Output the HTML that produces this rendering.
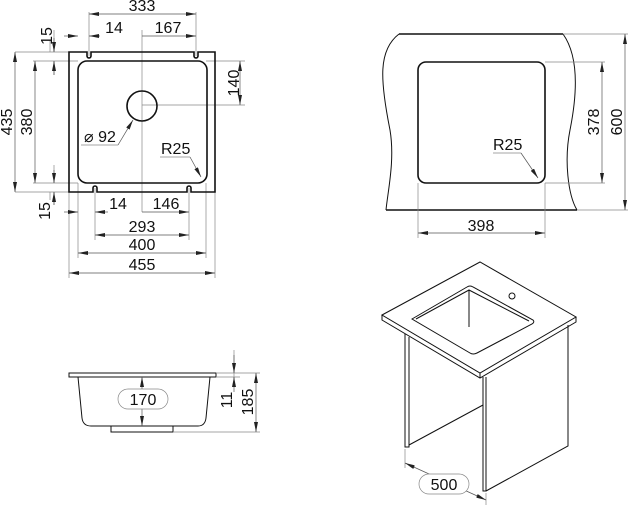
<!DOCTYPE html>
<html><head><meta charset="utf-8"><style>
html,body{margin:0;padding:0;background:#fff;width:628px;height:510px;overflow:hidden}
svg{display:block}
text{font-family:"Liberation Sans",sans-serif;font-size:16px;fill:#111}
.t{stroke:#888;stroke-width:0.7;fill:none}
.d{stroke:#555;stroke-width:0.7;fill:none;marker-start:url(#a);marker-end:url(#a)}
.k{stroke:#111;stroke-width:1.6;fill:none}
.k1{stroke:#111;stroke-width:1;fill:none}
</style></head><body>
<svg width="628" height="510" viewBox="0 0 628 510" xmlns="http://www.w3.org/2000/svg">
<defs>
<marker id="a" viewBox="0 0 10 4" refX="10" refY="2" markerWidth="10" markerHeight="4" orient="auto-start-reverse" markerUnits="userSpaceOnUse"><path d="M0,0 L10,2 L0,4 z" fill="#222"/></marker>
</defs>

<g>
<path class="t" d="M89,12V56 M196,12V56 M142,30V212 M142,105H245 M206,61H245 M15,52H69 M33,61H78 M33,183H78 M15,192H69 M78,183V258 M206,183V258 M95,188V240 M189,188V240 M69,192V278 M215,192V278 M50,52V40 M50,192V200"/>
<path class="k" d="M69,52H87 V56 A2,2 0 0 0 91,56 V52 H194 V56 A2,2 0 0 0 198,56 V52 H215 V192 H191 V188 A2,2 0 0 0 187,188 V192 H97 V188 A2,2 0 0 0 93,188 V192 H69 Z"/>
<rect class="k" x="78" y="61" width="129" height="122" rx="9"/>
<circle class="k" cx="142" cy="106" r="15"/>
<line class="d" x1="89" y1="14" x2="196" y2="14"/>
<text x="142" y="11" text-anchor="middle">333</text>
<line class="d" x1="64" y1="36" x2="78" y2="36" style="marker-start:none"/>
<line class="d" x1="100" y1="36" x2="89" y2="36" style="marker-start:none"/>
<text x="114" y="33" text-anchor="middle">14</text>
<line class="d" x1="142" y1="36" x2="196" y2="36" style="marker-start:none"/>
<text x="168" y="33" text-anchor="middle">167</text>
<path class="t" d="M54,30V52 M54,61V75"/>
<line class="d" x1="54" y1="38" x2="54" y2="52" style="marker-start:none"/>
<line class="d" x1="54" y1="75" x2="54" y2="61" style="marker-start:none"/>
<text transform="translate(52,36) rotate(-90)" text-anchor="middle">15</text>
<line class="d" x1="15" y1="52" x2="15" y2="192"/>
<text transform="translate(12,122) rotate(-90)" text-anchor="middle">435</text>
<line class="d" x1="35" y1="61" x2="35" y2="183"/>
<text transform="translate(32,122) rotate(-90)" text-anchor="middle">380</text>
<line class="d" x1="240" y1="61" x2="240" y2="105"/>
<text transform="translate(239,83) rotate(-90)" text-anchor="middle">140</text>
<path class="t" d="M81,145H118"/>
<line class="d" x1="118" y1="145" x2="133" y2="120" style="marker-start:none"/>
<text x="84" y="142">⌀ 92</text>
<path class="t" d="M160,157H190"/>
<line class="d" x1="190" y1="157" x2="201" y2="177" style="marker-start:none"/>
<text x="161" y="154">R25</text>
<path class="t" d="M54,165V183 M54,192V205"/>
<line class="d" x1="54" y1="170" x2="54" y2="183" style="marker-start:none"/>
<line class="d" x1="54" y1="205" x2="54" y2="192" style="marker-start:none"/>
<text transform="translate(50,211) rotate(-90)" text-anchor="middle">15</text>
<line class="d" x1="64" y1="212" x2="78" y2="212" style="marker-start:none"/>
<line class="d" x1="108" y1="212" x2="95" y2="212" style="marker-start:none"/>
<text x="118" y="209" text-anchor="middle">14</text>
<line class="d" x1="142" y1="212" x2="189" y2="212" style="marker-start:none"/>
<text x="166" y="209" text-anchor="middle">146</text>
<line class="d" x1="95" y1="235" x2="189" y2="235"/>
<text x="142" y="232" text-anchor="middle">293</text>
<line class="d" x1="78" y1="253" x2="206" y2="253"/>
<text x="142" y="250" text-anchor="middle">400</text>
<line class="d" x1="69" y1="273" x2="215" y2="273"/>
<text x="142" y="270" text-anchor="middle">455</text>
</g>

<g>
<path class="k1" d="M399,34 C378,50 380,80 390,130 C395,160 388,190 386,210"/>
<path class="k1" d="M563,34 C578,55 578,90 570,130 C564,160 568,195 577,210"/>
<path class="k" d="M399,34H563 M386,210H577"/>
<rect class="k" x="418" y="62" width="127" height="121" rx="8"/>
<path class="t" d="M545,62H605 M545,183H605 M563,34H628 M577,210H628 M418,183V238 M545,183V238"/>
<line class="d" x1="602" y1="62" x2="602" y2="183"/>
<text transform="translate(599,122) rotate(-90)" text-anchor="middle">378</text>
<line class="d" x1="625" y1="34" x2="625" y2="210"/>
<text transform="translate(622,122) rotate(-90)" text-anchor="middle">600</text>
<line class="d" x1="418" y1="233" x2="545" y2="233"/>
<text x="481" y="231" text-anchor="middle">398</text>
<path class="t" d="M493,153H521"/>
<line class="d" x1="521" y1="153" x2="538" y2="178" style="marker-start:none"/>
<text x="493" y="150">R25</text>
</g>

<g>
<rect class="k1" x="69" y="373" width="147" height="4"/>
<path class="k1" d="M78,377 L82,418 Q83,426 91,426 H198 Q205,426 206,418 L210,377"/>
<rect class="k1" x="111" y="426" width="62" height="6"/>
<path class="t" d="M216,373H260 M216,377H240 M173,432H260"/>
<line class="d" x1="142" y1="377" x2="142" y2="426"/>
<rect x="118" y="389" width="50" height="20" rx="10" fill="#fff" stroke="#888" stroke-width="0.7"/>
<text x="143" y="405" text-anchor="middle">170</text>
<path class="t" d="M234,350V387"/>
<line class="d" x1="234" y1="355" x2="234" y2="373" style="marker-start:none"/>
<line class="d" x1="234" y1="392" x2="234" y2="377" style="marker-start:none"/>
<text transform="translate(232,400) rotate(-90)" text-anchor="middle">11</text>
<line class="d" x1="256" y1="373" x2="256" y2="432"/>
<text transform="translate(253,402) rotate(-90)" text-anchor="middle">185</text>
</g>

<g>
<path class="k1" d="M382,315 L480,262 L576,317 L480,373 Z" fill="#fff"/>
<path class="k1" d="M382,315 V320 L480,378 L576,322 V317 M480,373V378"/>
<path class="k1" d="M412,319 L467,287 Q470,285 473,287 L533,320 Q535,322 532,324 L477,353 Q473,355 470,353 Z"/>
<path class="k1" d="M416,319 L469,290 L529,321 M469,290 V327"/>
<circle class="k1" cx="512" cy="296" r="3"/>
<path class="k1" d="M405,334 V447 H409 V337 M409,445 L483,405 M483,377 V491 H486 V377 M486,491 L568,446 V325"/>
<path class="t" d="M405,449V468 M486,493V505"/>
<line class="d" x1="405" y1="463" x2="486" y2="500"/>
<rect x="419" y="474" width="50" height="20" rx="10" fill="#fff" stroke="#888" stroke-width="0.7"/>
<text x="444" y="490" text-anchor="middle">500</text>
</g>
</svg>
</body></html>
